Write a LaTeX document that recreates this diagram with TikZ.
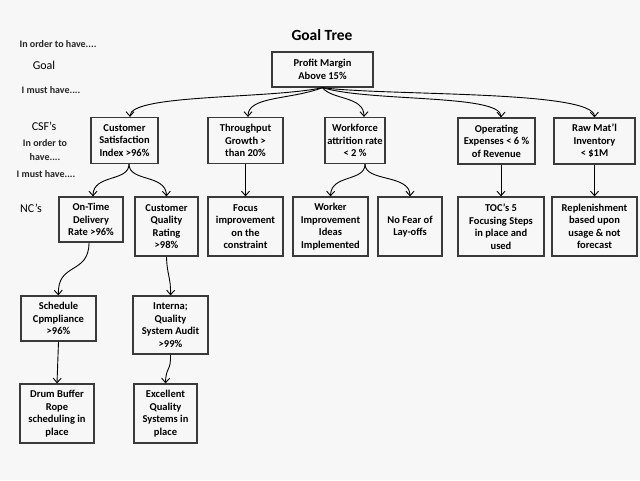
\documentclass[tikz,border=0pt]{standalone}
\usepackage{fontspec}
\setmainfont{Carlito}
\usetikzlibrary{arrows.meta}
\definecolor{bgc}{HTML}{F7F7F7}
\definecolor{boxc}{HTML}{3A3A3A}
\tikzset{
  box/.style={draw=boxc, line width=1.3pt, align=center, inner sep=1pt,
    font=\bfseries\fontsize{10.5}{12.5}\selectfont, text=black},
  side/.style={font=\bfseries\fontsize{10}{14}\selectfont, align=center, text=black!85},
  lvl/.style={font=\fontsize{12}{14}\selectfont, text=black},
  conn/.style={draw=black, line width=0.9pt, -{Straight Barb[length=4.5pt,width=8pt,line width=0.9pt]}}
}
\begin{document}
\begin{tikzpicture}[x=1pt,y=-1pt]
\fill[bgc] (0,0) rectangle (640,480);
\useasboundingbox (0,0) rectangle (640,480);
% title and side labels
\node[font=\bfseries\fontsize{15.5}{18}\selectfont] (title) at (322,35) {Goal Tree};
\node[side] (l1) at (58,44) {In order to have....};
\node[lvl] (l2) at (44,65) {Goal};
\node[side] (l3) at (51,90) {I must have....};
\node[lvl] (l4) at (44,126) {CSF’s};
\node[side] (l5) at (45,150) {In order to\\have....};
\node[side] (l6) at (46,174) {I must have....};
\node[lvl] (l7) at (31,208) {NC’s};
% goal
\node[box, minimum width=101, minimum height=35] (goal) at (322.5,69.5) {Profit Margin\\Above 15\%};
% CSFs
\node[box, minimum width=67, minimum height=46] (c1) at (124.5,140.5) {Customer\\Satisfaction\\Index >96\%};
\node[box, minimum width=75, minimum height=46] (c2) at (245.5,140.5) {Throughput\\Growth >\\than 20\%};
\node[box, minimum width=60, minimum height=46] (c3) at (355,140.5) {Workforce\\attrition rate\\< 2 \%};
\node[box, minimum width=77, minimum height=46] (c4) at (496.5,141) {Operating\\Expenses < 6 \%\\of Revenue};
\node[box, minimum width=81, minimum height=46] (c5) at (594.5,141) {Raw Mat’l\\Inventory\\< \$1M};
% NCs
\node[box, minimum width=64, minimum height=45] (n1) at (91,219.5) {On-Time\\Delivery\\Rate >96\%};
\node[box, minimum width=63, minimum height=59] (n2) at (166.5,226.5) {Customer\\Quality\\Rating\\>98\%};
\node[box, minimum width=75, minimum height=59] (n3) at (245.5,226.5) {Focus\\improvement\\on the\\constraint};
\node[box, minimum width=75, minimum height=59] (n4) at (330.5,226.5) {Worker\\Improvement\\Ideas\\Implemented};
\node[box, minimum width=64, minimum height=59] (n5) at (410,226.5) {No Fear of\\Lay-offs};
\node[box, minimum width=86, minimum height=59] (n6) at (501,226.5) {TOC’s 5\\Focusing Steps\\in place and\\used};
\node[box, minimum width=85, minimum height=59] (n7) at (594.5,226.5) {Replenishment\\based upon\\usage \& not\\forecast};
% lower levels
\node[box, minimum width=75, minimum height=45] (s1) at (58.5,318.5) {Schedule\\Cpmpliance\\>96\%};
\node[box, minimum width=75, minimum height=58] (s2) at (170.5,325) {Interna;\\Quality\\System Audit\\>99\%};
\node[box, minimum width=74, minimum height=59] (d1) at (57,413.5) {Drum Buffer\\Rope\\scheduling in\\place};
\node[box, minimum width=63, minimum height=59] (d2) at (165.5,413.5) {Excellent\\Quality\\Systems in\\place};
% connectors from goal
\draw[conn] (goal.south) .. controls (270,99) and (130,94) .. ([xshift=5.5pt]c1.north);
\draw[conn] (goal.south) .. controls (290,100) and (248,96) .. ([xshift=2.5pt]c2.north);
\draw[conn] (goal.south) .. controls (332,100) and (364,96) .. ([xshift=9pt]c3.north);
\draw[conn] (goal.south) .. controls (370,102) and (501,94) .. ([xshift=4.5pt]c4.north);
\draw[conn] (goal.south) .. controls (385,96) and (594,90) .. (c5.north);
% CSF to NC
\draw[conn] ([xshift=4.5pt]c1.south) .. controls (129,182) and (93,174) .. ([xshift=2pt]n1.north);
\draw[conn] ([xshift=4.5pt]c1.south) .. controls (129,182) and (166,174) .. (n2.north);
\draw[conn] (c2.south) -- (n3.north);
\draw[conn] ([xshift=10pt]c3.south) .. controls (365,182) and (331,174) .. (n4.north);
\draw[conn] ([xshift=10pt]c3.south) .. controls (365,182) and (410,174) .. (n5.north);
\draw[conn] ([xshift=4.5pt]c4.south) -- (n6.north);
\draw[conn] (c5.south) -- (n7.north);
% lower chains
\draw[conn] ([xshift=-2pt]n1.south) .. controls (89,275) and (57,262) .. (s1.north);
\draw[conn] (n2.south) .. controls (167,275) and (171,278) .. (s2.north);
\draw[conn] (s1.south) -- (d1.north);
\draw[conn] (s2.south) .. controls (171,372) and (166,366) .. (d2.north);
\end{tikzpicture}
\end{document}
